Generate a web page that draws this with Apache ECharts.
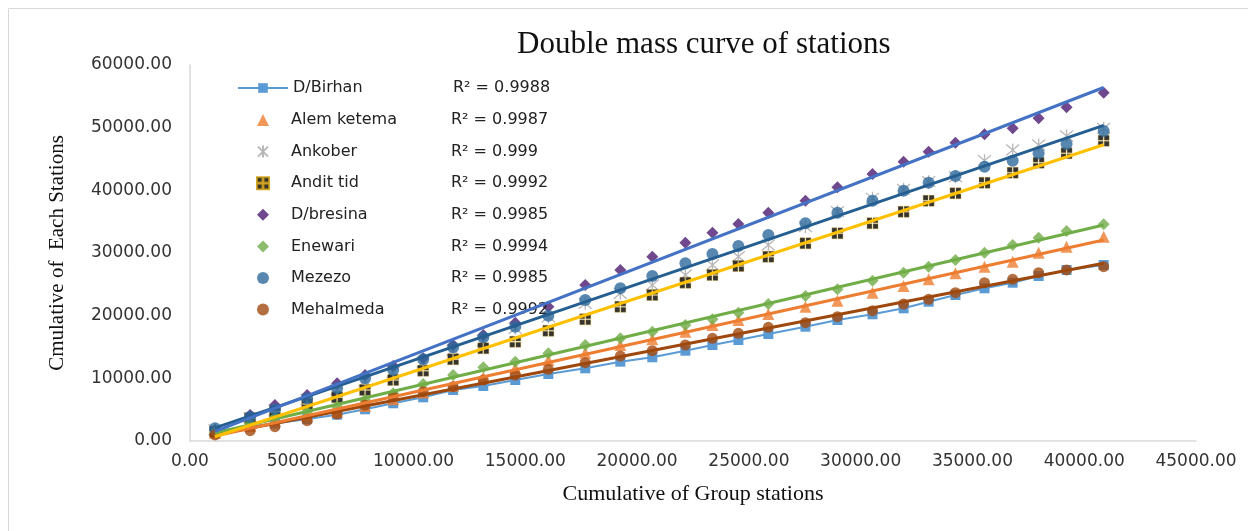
<!DOCTYPE html>
<html>
<head>
<meta charset="utf-8">
<script src="https://cdn.jsdelivr.net/npm/echarts@6/dist/echarts.min.js"></script>
<style>
    html, body { margin: 0; padding: 0; background: #fff; }
    #chart { width: 1248px; height: 531px; }
</style>
</head>
<body>
<div id="chart"></div>
<script>
    // cumulative of group stations (x)
    var groupCum = [1120, 2690, 3800, 5240, 6580, 7830, 9090, 10430, 11770, 13120,
        14550, 16030, 17680, 19250, 20680, 22160, 23370, 24530, 25870, 27530,
        28960, 30530, 31920, 33040, 34240, 35540, 36800, 37960, 39210, 40870];

    var dBirhan = [1600, 2300, 2800, 3500, 4200, 5060, 6020, 6970, 8140, 8780,
        9730, 10690, 11600, 12660, 13360, 14410, 15320, 16120, 17070, 18240,
        19310, 20220, 21170, 22230, 23300, 24370, 25260, 26330, 27290, 28080];
    var alemKetema = [1330, 2390, 3240, 3990, 4680, 5590, 6650, 7720, 8800, 10100,
        11600, 12930, 14090, 15320, 16230, 17440, 18510, 19310, 20270, 21430,
        22390, 23670, 24730, 25800, 26760, 27810, 28610, 30050, 31000, 32600];
    var ankober = [1800, 3700, 4900, 6600, 8200, 9600, 11000, 12600, 14500, 16000,
        17980, 19800, 21970, 23570, 24890, 26490, 28080, 29410, 31280, 34200,
        36590, 38730, 40160, 41380, 42170, 44730, 46430, 47230, 48670, 49900];
    var anditTid = [1490, 3620, 4680, 5900, 6970, 8140, 9730, 11220, 13040, 14790,
        15850, 17600, 19420, 21430, 23300, 25260, 26490, 27920, 29410, 31550,
        33140, 34740, 36590, 38340, 39520, 41220, 42810, 44410, 45910, 47920];
    var dBresina = [1750, 4150, 5740, 7340, 9210, 10530, 11970, 13200, 15320, 16910,
        18880, 21430, 24890, 27290, 29410, 31640, 33240, 34630, 36430, 38340,
        40480, 42600, 44570, 46160, 47600, 48940, 49900, 51490, 53250, 55580];
    var enewari = [1490, 2820, 3780, 4680, 5470, 6540, 7610, 9100, 10530, 11760,
        12660, 13990, 15320, 16390, 17440, 18510, 19410, 20480, 21860, 23140,
        24200, 25580, 26860, 27810, 28880, 30050, 31280, 32440, 33510, 34580];
    var mezezo = [2020, 3880, 5060, 6810, 8410, 10000, 11330, 13040, 14950, 16550,
        18240, 20000, 22500, 24370, 26330, 28360, 29840, 31120, 32870, 34740,
        36430, 38340, 39940, 41220, 42290, 43770, 44730, 45910, 47390, 49470];
    var mehalmeda = [960, 1640, 2280, 3240, 4310, 5740, 7070, 7870, 8660, 9730,
        10530, 11440, 12490, 13560, 14410, 15320, 16390, 17190, 18140, 18880,
        19830, 20790, 21860, 22610, 23670, 25260, 25800, 26860, 27290, 27810];

    var stationNames = ['D/Birhan', 'Alem ketema', 'Ankober', 'Andit tid', 'D/bresina', 'Enewari', 'Mezezo', 'Mehalmeda'];
    var r2Labels = ['0.9988', '0.9987', '0.999', '0.9992', '0.9985', '0.9994', '0.9985', '0.9992'];

    var xTicks = [0, 5000, 10000, 15000, 20000, 25000, 30000, 35000, 40000, 45000];
    var yTicks = [0, 10000, 20000, 30000, 40000, 50000, 60000];

    function pairs(ys) {
        return groupCum.map(function (x, i) { return [x, ys[i]]; });
    }

    // least squares line through the points, drawn from first to last x
    function trend(ys) {
        var n = groupCum.length, sx = 0, sy = 0, sxx = 0, sxy = 0;
        for (var i = 0; i < n; i++) {
            sx += groupCum[i]; sy += ys[i];
            sxx += groupCum[i] * groupCum[i]; sxy += groupCum[i] * ys[i];
        }
        var b = (n * sxy - sx * sy) / (n * sxx - sx * sx);
        var a = (sy - b * sx) / n;
        var x0 = groupCum[0], x1 = groupCum[n - 1];
        return [[x0, a + b * x0], [x1, a + b * x1]];
    }

    var asterisk = 'path://M0,0L10,10M10,0L0,10M5,-1L5,11';
    var quad = 'path://M0,0h9v9h-9zM11,0h9v9h-9zM0,11h9v9h-9zM11,11h9v9h-9z';

    var series = [
        {
            name: 'D/Birhan', type: 'line', data: pairs(dBirhan),
            symbol: 'rect', symbolSize: 10, showAllSymbol: true,
            itemStyle: { color: '#5B9BD5' },
            lineStyle: { color: '#5B9BD5', width: 2 }, z: 3
        },
        {
            name: 'Alem ketema', type: 'scatter', data: pairs(alemKetema),
            symbol: 'triangle', symbolSize: 12, itemStyle: { color: '#ED7D31' }, z: 3
        },
        {
            name: 'Ankober', type: 'scatter', data: pairs(ankober),
            symbol: asterisk, symbolSize: 13,
            itemStyle: { color: '#A5A5A5', borderColor: '#A5A5A5', borderWidth: 1.3 }, z: 3
        },
        {
            name: 'Andit tid', type: 'scatter', data: pairs(anditTid),
            symbol: quad, symbolSize: 11,
            itemStyle: { color: '#000', borderColor: '#C89600', borderWidth: 0.4 }, z: 3
        },
        {
            name: 'D/bresina', type: 'scatter', data: pairs(dBresina),
            symbol: 'diamond', symbolSize: 12, itemStyle: { color: '#4B1A70' }, z: 3
        },
        {
            name: 'Enewari', type: 'scatter', data: pairs(enewari),
            symbol: 'diamond', symbolSize: 12, itemStyle: { color: '#70AD47' }, z: 3
        },
        {
            name: 'Mezezo', type: 'scatter', data: pairs(mezezo),
            symbol: 'circle', symbolSize: 12, itemStyle: { color: '#2E6A9C' }, z: 3
        },
        {
            name: 'Mehalmeda', type: 'scatter', data: pairs(mehalmeda),
            symbol: 'circle', symbolSize: 11, itemStyle: { color: '#A24A10' }, z: 3
        }
    ];

    // trendlines (drawn over the markers, as in the original)
    var trendSets = [
        [mehalmeda, '#9E480E'],
        [alemKetema, '#ED7D31'],
        [enewari, '#70AD47'],
        [anditTid, '#FFC000'],
        [mezezo, '#255E91'],
        [dBresina, '#4472C4']
    ];
    trendSets.forEach(function (t, i) {
        series.push({
            name: 'trend' + i, type: 'line', data: trend(t[0]),
            symbol: 'none', silent: true, z: 5,
            lineStyle: { color: t[1], width: 3 }
        });
    });

    var sans = 'DejaVu Sans';
    var serif = 'Liberation Serif';

    function legendText(name) {
        var i = stationNames.indexOf(name);
        var lead = i === 0 ? '' : '{s|}';
        return lead + '{n|' + name + '}{r|R\u00b2 = ' + r2Labels[i] + '}';
    }
    var legendRich = {
        s: { width: 17 },
        n: { width: 160, fontFamily: sans, fontSize: 16, color: '#222' },
        r: { fontFamily: sans, fontSize: 16, color: '#222' }
    };

    var option = {
        backgroundColor: '#fff',
        animation: false,
        title: {
            text: 'Double mass curve of stations',
            left: 512, top: 24,
            textStyle: { fontFamily: serif, fontSize: 31, fontWeight: 'normal', color: '#111' }
        },
        legend: [{
            // first entry keeps its line + marker icon
            data: stationNames.slice(0, 1),
            orient: 'vertical',
            left: 232, top: 75,
            itemWidth: 50, itemHeight: 12,
            formatter: legendText,
            textStyle: { rich: legendRich }
        }, {
            data: stationNames.slice(1),
            orient: 'vertical',
            left: 251, top: 107,
            itemWidth: 12, itemHeight: 12,
            itemGap: 15.6,
            formatter: legendText,
            textStyle: { rich: legendRich }
        }],
        grid: { left: 190, right: 52, top: 65, bottom: 90 },
        xAxis: {
            type: 'value', min: xTicks[0], max: xTicks[xTicks.length - 1], interval: xTicks[1] - xTicks[0],
            name: 'Cumulative of Group stations', nameLocation: 'middle', nameGap: 42,
            nameTextStyle: { fontFamily: serif, fontSize: 22, color: '#111' },
            axisLine: { show: true, lineStyle: { color: '#d9d9d9', width: 1.5 } },
            axisTick: { show: false },
            splitLine: { show: false },
            axisLabel: {
                margin: 12, fontFamily: sans, fontSize: 17, color: '#333',
                formatter: function (v) { return v.toFixed(2); }
            }
        },
        yAxis: {
            type: 'value', min: yTicks[0], max: yTicks[yTicks.length - 1], interval: yTicks[1] - yTicks[0],
            name: 'Cmulative of  Each Stations', nameLocation: 'middle', nameGap: 122,
            nameTextStyle: { fontFamily: serif, fontSize: 21, color: '#111' },
            axisLine: { show: true, lineStyle: { color: '#d9d9d9', width: 1.5 } },
            axisTick: { show: false },
            splitLine: { show: false },
            axisLabel: {
                margin: 18, fontFamily: sans, fontSize: 17, color: '#333',
                formatter: function (v) { return v.toFixed(2); }
            }
        },
        graphic: [{
            type: 'rect', silent: true, z: -1,
            shape: { x: 8.5, y: 8.5, width: 1260, height: 540 },
            style: { fill: 'none', stroke: '#d9d9d9', lineWidth: 1 }
        }],
        series: series
    };

    var myChart = echarts.init(document.getElementById('chart'));
    myChart.setOption(option);
</script>
</body>
</html>
